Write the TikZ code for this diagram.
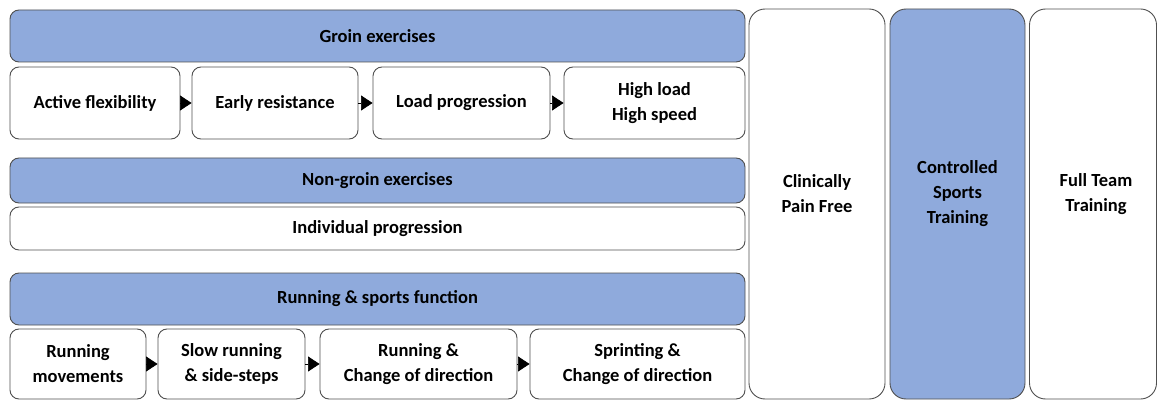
\documentclass[tikz,border=0pt]{standalone}
\usepackage{fontspec}
\setmainfont{Carlito}
\usetikzlibrary{arrows.meta}
\definecolor{bluefill}{HTML}{8FAADC}
\definecolor{edge}{HTML}{505050}
\tikzset{
  box/.style={draw=edge, line width=0.9pt, rounded corners=9pt, fill=white, inner sep=0pt,
    font=\bfseries\fontsize{18.5}{25}\selectfont, align=center},
  bar/.style={box, fill=bluefill},
  col/.style={box, rounded corners=16pt},
  lbl/.style={inner sep=0pt, font=\bfseries\fontsize{18.5}{25}\selectfont, align=center},
  arr/.style={-{Triangle[length=11.5pt,width=15pt]}, line width=0.6pt, draw=black},
}
\begin{document}
\begin{tikzpicture}[x=1pt,y=-1pt]
\useasboundingbox (0,0) rectangle (1157,401);
% bars
\node[bar, minimum width=735pt, minimum height=52pt] (groin) at (377.5,36) {Groin exercises};
\node[bar, minimum width=735pt, minimum height=45pt] (nongroin) at (377.5,180.5) {Non-groin exercises};
\node[box, minimum width=735pt, minimum height=43pt] (indiv) at (377.5,228.5) {Individual progression};
\node[bar, minimum width=735pt, minimum height=52pt] (run) at (377.5,299) {Running \& sports function};
% row 1
\node[box, minimum width=170pt, minimum height=72pt] (g1) at (95,103) {Active flexibility};
\node[box, minimum width=166pt, minimum height=72pt] (g2) at (275,103) {Early resistance};
\node[box, minimum width=177pt, minimum height=72pt] (g3) at (461.5,103) {Load progression};
\node[box, minimum width=181pt, minimum height=72pt] (g4) at (654.5,103) {High load\\High speed};
% row 3
\node[box, minimum width=136pt, minimum height=70pt] (r1) at (78,364) {Running\\movements};
\node[box, minimum width=147pt, minimum height=70pt] (r2) at (231.5,364) {Slow running\\\& side-steps};
\node[box, minimum width=197pt, minimum height=70pt] (r3) at (418.5,364) {Running \&\\Change of direction};
\node[box, minimum width=215pt, minimum height=70pt] (r4) at (637.5,364) {Sprinting \&\\Change of direction};
% columns
\node[col, minimum width=136pt, minimum height=390pt] (c1) at (817,204) {};
\node[col, fill=bluefill, minimum width=135pt, minimum height=390pt] (c2) at (957.5,204) {};
\node[col, minimum width=127pt, minimum height=390pt] (c3) at (1093,204) {};
\node[lbl] (c1t) at (817,194) {Clinically\\Pain Free};
\node[lbl] (c2t) at (957.5,194) {Controlled\\Sports\\Training};
\node[lbl] (c3t) at (1096,194) {Full Team\\Training};
% arrows
\draw[arr] (g1) -- (g2);
\draw[arr] (g2) -- (g3);
\draw[arr] (g3) -- (g4);
\draw[arr] (r1) -- (r2);
\draw[arr] (r2) -- (r3);
\draw[arr] (r3) -- (r4);
\end{tikzpicture}
\end{document}
